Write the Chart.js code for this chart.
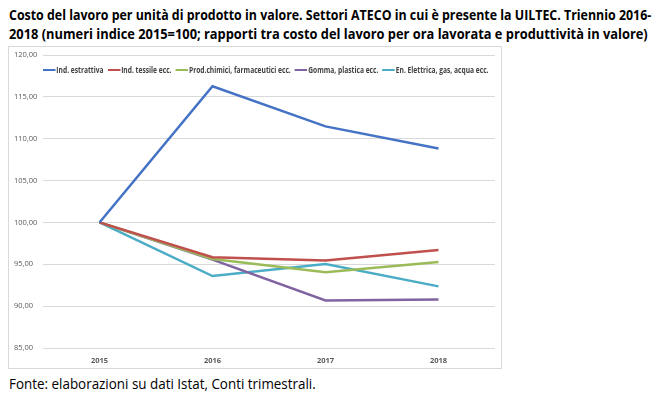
<!DOCTYPE html>
<html>
<head>
<meta charset="utf-8">
<script src="https://cdn.jsdelivr.net/npm/chart.js@4"></script>
<style>
    body { margin: 0; background: #fff; width: 660px; height: 399px; overflow: hidden; position: relative; font-family: "Open Sans", sans-serif; }
    .fit { position: absolute; left: 9px; white-space: nowrap; transform-origin: 0 50%; color: #000; }
    .title { font-weight: bold; font-size: 15px; }
    .note { font-size: 14.5px; }
    .box { position: absolute; left: 8px; top: 46px; width: 492px; height: 321px; border: 1px solid #d9d9d9; }
    .box canvas { display: block; }
    #legend { position: absolute; left: 43px; top: 64px; white-space: nowrap; transform-origin: 0 50%; font-family: "Open Sans", sans-serif; font-weight: bold; font-size: 8px; color: #404040; display: flex; align-items: center; }
    #legend span.item { display: inline-flex; align-items: center; margin-right: 5px; }
    #legend i { display: inline-block; width: 15px; height: 2px; margin-right: 1px; }
</style>
</head>
<body>
<div class="fit title" data-w="642" style="top:4px">Costo del lavoro per unità di prodotto in valore. Settori ATECO in cui è presente la UILTEC. Triennio 2016-</div>
<div class="fit title" data-w="639" style="top:23px">2018 (numeri indice 2015=100; rapporti tra costo del lavoro per ora lavorata e produttività in valore)</div>
<div class="box"><canvas id="lineChart" width="492" height="321"></canvas></div>
<div id="legend" data-w="450"></div>
<div class="fit note" data-w="307" style="top:374px">Fonte: elaborazioni su dati Istat, Conti trimestrali.</div>
<script>
const years = ['2015', '2016', '2017', '2018'];
const seriesNames = ['Ind. estrattiva', 'Ind. tessile ecc.', 'Prod.chimici, farmaceutici ecc.', 'Gomma, plastica ecc.', 'En. Elettrica, gas, acqua ecc.'];
const estrattiva = [100, 116.27, 111.47, 108.84];
const tessile = [100, 95.84, 95.44, 96.7];
const chimici = [100, 95.64, 94.04, 95.28];
const gomma = [100, 95.56, 90.68, 90.8];
const elettrica = [100, 93.6, 95.04, 92.36];
const colors = ['#4472c4', '#c0504d', '#9bbb59', '#8064a2', '#4bacc6'];

const values = [estrattiva, tessile, chimici, gomma, elettrica];
const font = '"Open Sans", sans-serif';

// html legend, laid over the plot like the Excel one
const legend = document.getElementById('legend');
seriesNames.forEach((name, i) => {
    const item = document.createElement('span');
    item.className = 'item';
    item.innerHTML = `<i style="background:${colors[i]}"></i>${name}`;
    legend.appendChild(item);
});

// squeeze text to the width it has in the picture (no Calibri here)
document.querySelectorAll('[data-w]').forEach(el => {
    const w = el.scrollWidth;
    el.style.transform = `scaleX(${el.dataset.w / w})`;
});

new Chart(document.getElementById('lineChart').getContext('2d'), {
    type: 'line',
    data: {
        labels: years,
        datasets: values.map((v, i) => ({
            label: seriesNames[i],
            data: v,
            borderColor: colors[i],
            backgroundColor: colors[i],
            borderWidth: 2.5,
            pointRadius: 0,
            tension: 0
        }))
    },
    options: {
        responsive: false,
        animation: false,
        layout: { padding: { top: 8, right: 6, left: 5, bottom: 0 } },
        scales: {
            x: {
                offset: true,
                grid: { display: false, drawTicks: false },
                border: { display: false },
                ticks: { color: '#595959', font: { family: font, size: 7.5, weight: 'bold' }, padding: 8 },
                afterFit: s => { s.height = 20; }
            },
            y: {
                min: 85, max: 120,
                grid: { color: '#d9d9d9', drawTicks: false },
                border: { display: false },
                ticks: {
                    stepSize: 5, color: '#595959', padding: 0, crossAlign: 'far',
                    font: { family: font, size: 7.5 },
                    callback: v => v.toFixed(2).replace('.', ',')
                },
                afterFit: s => { s.width = 29; }
            }
        },
        plugins: {
            legend: { display: false },
            tooltip: { enabled: false }
        }
    }
});
</script>
</body>
</html>
